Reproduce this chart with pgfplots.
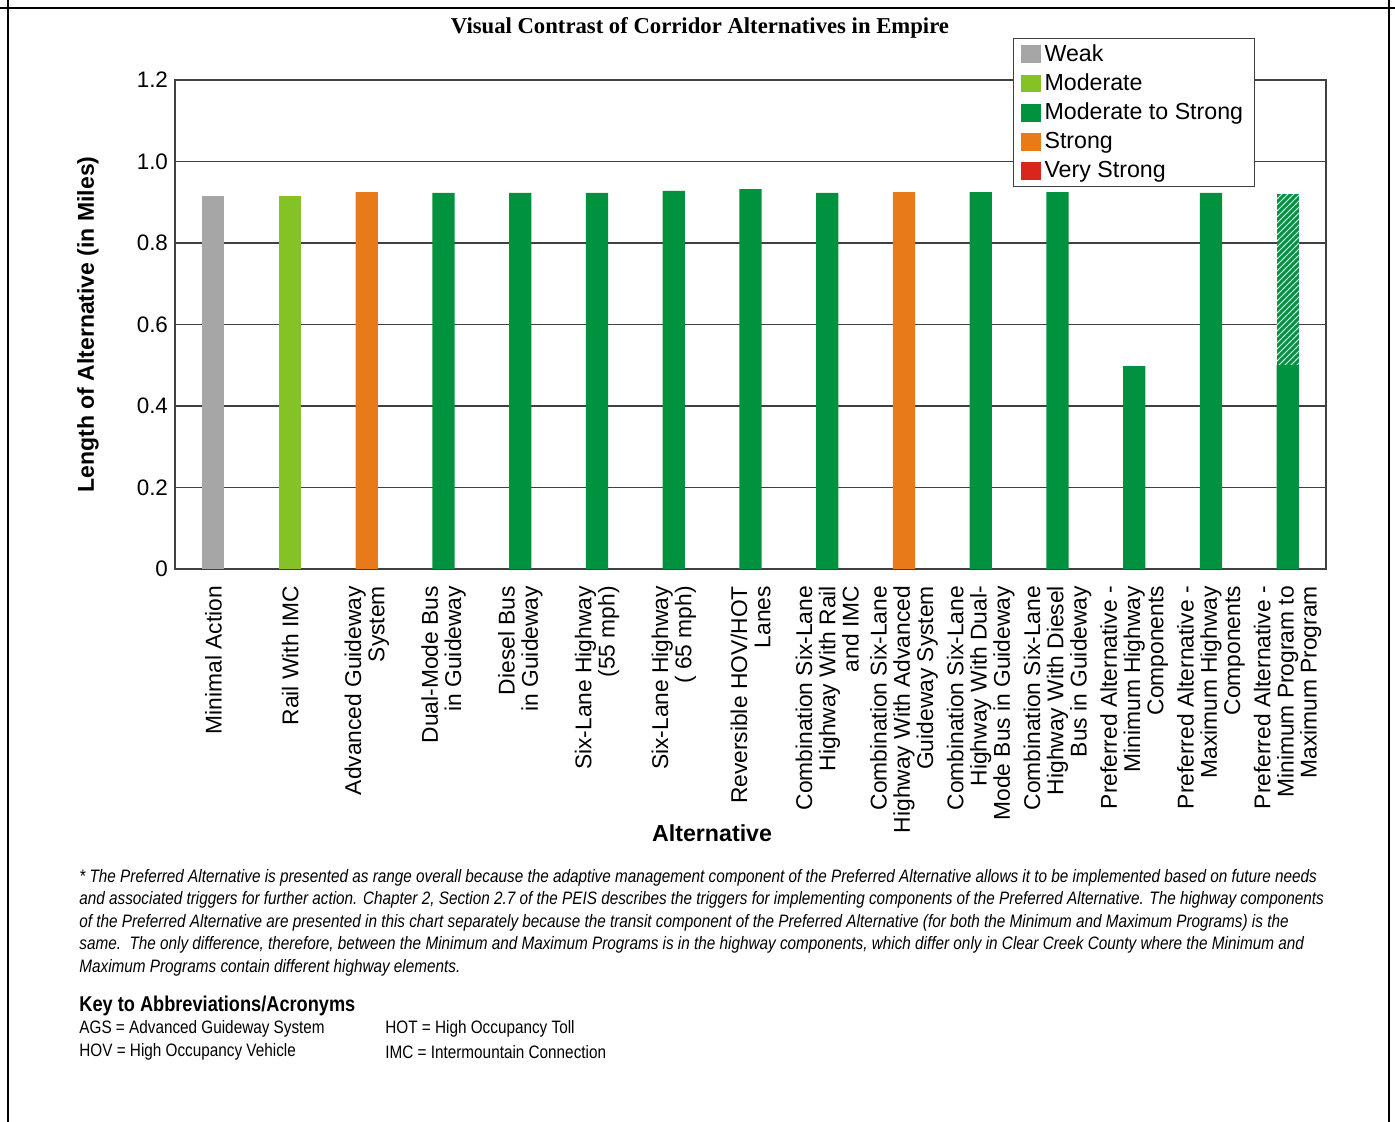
\documentclass[border=0pt]{standalone}
\usepackage{pgfplots}
\pgfplotsset{compat=1.18}
\usepackage{fontspec}
\setmainfont{Liberation Sans}
\newfontfamily\narrowfont{Liberation Sans}[FakeStretch=0.85]
\newfontfamily\titlefont{Liberation Serif}
\usetikzlibrary{patterns}

\definecolor{cweak}{RGB}{166,166,166}
\definecolor{cmod}{RGB}{133,194,38}
\definecolor{cmts}{RGB}{0,146,63}
\definecolor{cstrong}{RGB}{232,122,26}
\definecolor{cvstrong}{RGB}{218,37,29}

\pgfplotsset{
  sqleg/.style={legend image code/.code={\fill[##1] (0pt,-4.4pt) rectangle (10pt,4.4pt);}},
  bars/.style={ybar, bar width=0.29, bar shift=0pt, draw=none, sqleg},
}

\begin{document}
\begin{tikzpicture}
\path[use as bounding box] (0,0) rectangle (697.5pt,561pt);
\draw[line width=1pt] (4pt,561pt) -- (4pt,0pt);
\draw[line width=1pt] (0pt,557pt) -- (697.5pt,557pt);
\draw[line width=1pt] (694.5pt,561pt) -- (694.5pt,0pt);
\node[font=\titlefont\bfseries\fontsize{11.35}{13}\selectfont] at (350pt,547pt)
  {Visual Contrast of Corridor Alternatives in Empire};

\begin{axis}[
  at={(87.5pt,276.5pt)}, anchor=south west,
  width=575.5pt, height=244.5pt, scale only axis,
  xmin=-0.5, xmax=14.5, ymin=0, ymax=1.2,
  ytick={0,0.2,0.4,0.6,0.8,1.0,1.2},
  yticklabels={0,0.2,0.4,0.6,0.8,1.0,1.2},
  xtick={0,...,14},
  xticklabels={
    {Minimal Action},
    {Rail With IMC},
    {Advanced Guideway\\System},
    {Dual-Mode Bus\\in Guideway},
    {Diesel Bus\\in Guideway},
    {Six-Lane Highway\\(55 mph)},
    {Six-Lane Highway\\( 65 mph)},
    {Reversible HOV/HOT\\Lanes},
    {Combination Six-Lane\\Highway With Rail\\and IMC},
    {Combination Six-Lane\\Highway With Advanced\\Guideway System},
    {Combination Six-Lane\\Highway With Dual-\\Mode Bus in Guideway},
    {Combination Six-Lane\\Highway With Diesel\\Bus in Guideway},
    {Preferred Alternative -\\Minimum Highway\\Components},
    {Preferred Alternative -\\Maximum Highway\\Components},
    {Preferred Alternative -\\Minimum Program to\\Maximum Program}},
  xticklabel style={rotate=90, anchor=east, align=right, xshift=-5pt,
    font=\fontsize{11.4}{11.6}\selectfont},
  yticklabel style={font=\fontsize{11.2}{13}\selectfont},
  /pgf/number format/assume math mode=true,
  major tick length=0pt,
  ymajorgrids,
  grid style={black!75, line width=0.6pt},
  axis line style={black!75, line width=0.6pt},
  ylabel={Length of Alternative (in Miles)},
  every axis y label/.style={at={(axis description cs:-0.0756,0.5)}, rotate=90,
    anchor=center, font=\bfseries\fontsize{11.5}{13}\selectfont},
  xlabel={Alternative},
  every axis x label/.style={at={(axis description cs:0.4666,-0.54)},
    anchor=center, font=\bfseries\fontsize{11.6}{13}\selectfont},
  legend style={at={(0.728,1.086)}, anchor=north west, draw=black!75,
    line width=0.6pt, font=\fontsize{11.6}{13}\selectfont,
    row sep=2pt, inner xsep=3.5pt, inner ysep=1.5pt,
    nodes={inner ysep=1.4pt}},
  legend cell align=left,
]
% hatched upper part of the range bar (drawn first, solid part covers the bottom)
\addplot[bars, fill=cmts, postaction={pattern=north east lines, pattern color=white},
  forget plot] coordinates {(14,0.92)};
\addplot[bars, fill=cweak] coordinates {(0,0.915)};
\addplot[bars, fill=cmod] coordinates {(1,0.915)};
\addplot[bars, fill=cmts] coordinates {
  (3,0.923) (4,0.923) (5,0.923) (6,0.928) (7,0.932) (8,0.923)
  (10,0.925) (11,0.925) (12,0.498) (13,0.923) (14,0.5)};
\addplot[bars, fill=cstrong] coordinates {(2,0.925) (9,0.925)};
\addlegendimage{sqleg, fill=cvstrong, draw=none}
\legend{Weak, Moderate, Moderate to Strong, Strong, Very Strong}
\end{axis}

\node[anchor=north west, align=left, inner sep=0pt,
  font=\narrowfont\itshape\fontsize{9}{11.25}\selectfont] at (39.5pt,126.5pt)
{* The Preferred Alternative is presented as range overall because the adaptive management component of the Preferred Alternative allows it to be implemented based on future needs\\
and associated triggers for further action. Chapter 2, Section 2.7 of the PEIS describes the triggers for implementing components of the Preferred Alternative. The highway components\\
of the Preferred Alternative are presented in this chart separately because the transit component of the Preferred Alternative (for both the Minimum and Maximum Programs) is the\\
same.\ \ The only difference, therefore, between the Minimum and Maximum Programs is in the highway components, which differ only in Clear Creek County where the Minimum and\\
Maximum Programs contain different highway elements.};

\node[anchor=west, inner sep=0pt, font=\narrowfont\bfseries\fontsize{10.7}{12}\selectfont]
  at (39.5pt,58pt) {Key to Abbreviations/Acronyms};
\node[anchor=west, inner sep=0pt, font=\narrowfont\fontsize{9}{11}\selectfont]
  at (39.5pt,46.5pt) {AGS = Advanced Guideway System};
\node[anchor=west, inner sep=0pt, font=\narrowfont\fontsize{9}{11}\selectfont]
  at (39.5pt,35pt) {HOV = High Occupancy Vehicle};
\node[anchor=west, inner sep=0pt, font=\narrowfont\fontsize{9}{11}\selectfont]
  at (192.5pt,46.5pt) {HOT = High Occupancy Toll};
\node[anchor=west, inner sep=0pt, font=\narrowfont\fontsize{9}{11}\selectfont]
  at (192.5pt,35pt) {IMC = Intermountain Connection};
\end{tikzpicture}
\end{document}
